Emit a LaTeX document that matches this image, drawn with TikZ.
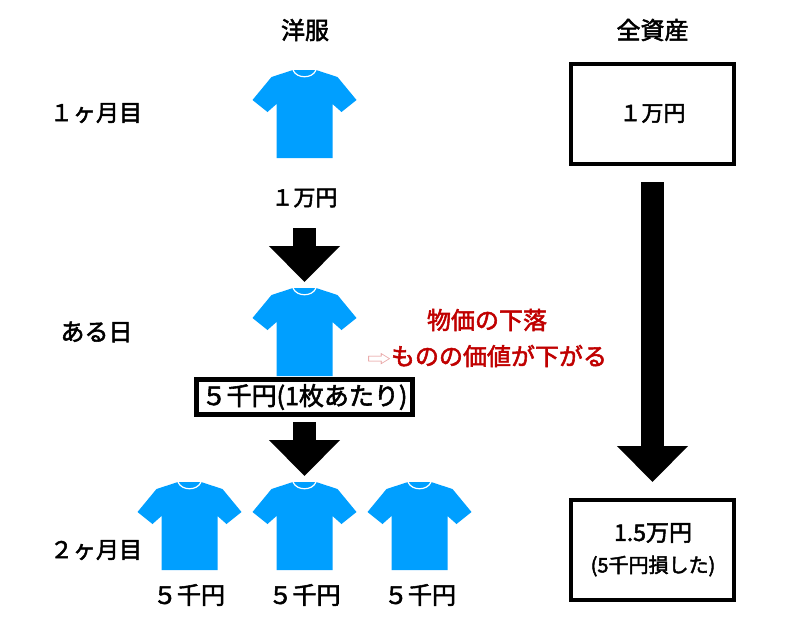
\documentclass[tikz,border=0pt]{standalone}
\usepackage{fontspec}
\usepackage{graphicx}
\usetikzlibrary{arrows.meta}
\setmainfont{Noto Sans CJK JP}[FakeBold=2.2]
\newfontfamily\plainjp{Noto Sans CJK JP}
\definecolor{shirtblue}{HTML}{009FFF}
\definecolor{dropred}{HTML}{C00000}
\newcommand{\fsz}[1]{\fontsize{#1}{#1}\selectfont}
\tikzset{
  x=1pt,y=-1pt,
  lbl/.style={inner sep=0pt,font=\fsz{24},text=black},
  redlbl/.style={lbl,text=dropred,font=\fsz{24}},
  boxed/.style={draw=black,line width=4pt,fill=white,minimum width=163pt,minimum height=100pt,inner sep=0pt,align=center},
  bigarrow/.style={line width=23pt,draw=black,-{Triangle[length=36pt,width=69pt]}},
  shirt/.pic={
    \fill[shirtblue] (-11.5,0) -- (-33,7) -- (-52,30) -- (-37,42) -- (-28,34) -- (-28,88)
      -- (28,88) -- (28,34) -- (37,42) -- (52,30) -- (33,7) -- (11.5,0) -- cycle;
    \draw[white,line width=1.2pt] (-11.5,0) .. controls (-8,9) and (8,9) .. (11.5,0);
  }
}
\begin{document}
\begin{tikzpicture}
\useasboundingbox[fill=white] (0,0) rectangle (805,627);
% shirts
\pic at (304.5,70) {shirt};
\pic at (304.5,288) {shirt};
\pic at (189.5,482) {shirt};
\pic at (304.5,482) {shirt};
\pic at (419.5,482) {shirt};
% headings
\node[lbl] (hclothes) at (305,30) {洋服};
\node[lbl] (hassets) at (652.5,30) {全資産};
\node[lbl,font=\fsz{23}] (m1) at (96,113) {１ヶ月目};
\node[lbl] (day) at (96.5,332) {ある日};
\node[lbl,font=\fsz{23}] (m2) at (96,550) {２ヶ月目};
% prices
\node[lbl,font=\fsz{22}] (p1) at (304.5,198) {１万円};
\node[draw=black,line width=5pt,fill=white,minimum width=216pt,minimum height=35pt,inner sep=0pt,font=\fsz{25}] (p2) at (304.5,397) {５千円(1枚あたり)};
\node[lbl] (p3a) at (189,595) {５千円};
\node[lbl] (p3b) at (304.5,595) {５千円};
\node[lbl] (p3c) at (420,595) {５千円};
% assets
\node[boxed,font=\fsz{22}] (a1) at (652.5,113.5) {１万円};
\node[boxed] (a2) at (652.5,550) {};
\node[lbl,font=\fsz{23}] (a2top) at (653,533) {1.5万円};
\node[lbl,font=\fsz{20}] (a2bot) at (653,566) {(5千円損した)};
% red note
\node[redlbl] (r1) at (487,320) {物価の下落};
\node[redlbl] (r2) at (487,356) {{\plainjp\color{dropred!40}\scalebox{1}[0.7]{⇨}}ものの価値が下がる};
% arrows
\coordinate (s1) at (304.5,228); \coordinate (e1) at (304.5,282);
\coordinate (s2) at (304.5,422); \coordinate (e2) at (304.5,476);
\coordinate (s3) at (652.5,182); \coordinate (e3) at (652.5,482);
\draw[bigarrow] (s1) -- (e1);
\draw[bigarrow] (s2) -- (e2);
\draw[bigarrow] (s3) -- (e3);
\end{tikzpicture}
\end{document}
